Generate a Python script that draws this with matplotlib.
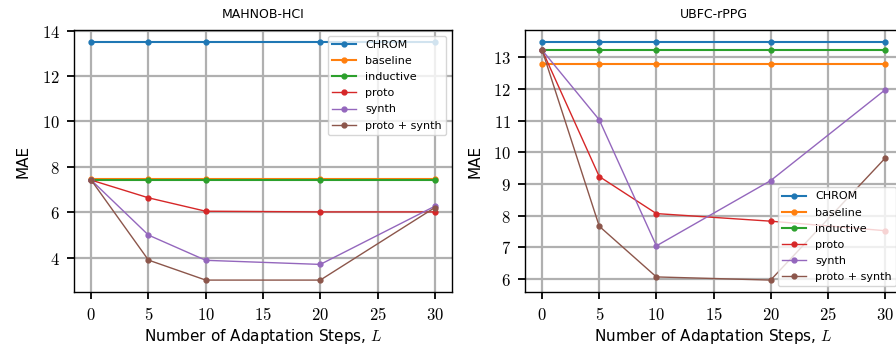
import matplotlib
matplotlib.use("Agg")
import matplotlib.pyplot as plt
from matplotlib.ticker import FuncFormatter

plt.rcParams["font.family"] = ["DejaVu Sans"]
plt.rcParams["mathtext.fontset"] = "cm"

steps = [0, 5, 10, 20, 30]
methods = ["CHROM", "baseline", "inductive", "proto", "synth", "proto + synth"]
colors = ["#1f77b4", "#ff7f0e", "#2ca02c", "#d62728", "#9467bd", "#8c564b"]
widths = [1.5, 1.5, 1.5, 1.0, 1.0, 1.0]

# MAE values
mahnob = {
    "CHROM": [13.5, 13.5, 13.5, 13.5, 13.5],
    "baseline": [7.47, 7.47, 7.47, 7.47, 7.47],
    "inductive": [7.42, 7.42, 7.42, 7.42, 7.42],
    "proto": [7.42, 6.64, 6.05, 6.02, 6.02],
    "synth": [7.42, 5.0, 3.89, 3.71, 6.27],
    "proto + synth": [7.42, 3.9, 3.02, 3.02, 6.21],
}
ubfc = {
    "CHROM": [13.49, 13.49, 13.49, 13.49, 13.49],
    "baseline": [12.78, 12.78, 12.78, 12.78, 12.78],
    "inductive": [13.23, 13.23, 13.23, 13.23, 13.23],
    "proto": [13.23, 9.24, 8.07, 7.83, 7.53],
    "synth": [13.23, 11.03, 7.05, 9.11, 11.97],
    "proto + synth": [13.23, 7.67, 6.07, 5.97, 9.81],
}

fig = plt.figure(figsize=(8.96, 3.49), dpi=100)
ax1 = fig.add_axes([74 / 896, 57 / 349, 378 / 896, 262 / 349])
ax2 = fig.add_axes([525 / 896, 57 / 349, 377 / 896, 262 / 349])

math_fmt = FuncFormatter(lambda v, p: f"${v:g}$")

for ax, data, title, loc in [
    (ax1, mahnob, "MAHNOB-HCI", "upper right"),
    (ax2, ubfc, "UBFC-rPPG", "lower right"),
]:
    for name, c, lw in zip(methods, colors, widths):
        ax.plot(steps, data[name], marker="o", markersize=3.5, color=c,
                linewidth=lw, label=name)
    ax.set_xticks([0, 5, 10, 15, 20, 25, 30])
    ax.xaxis.set_major_formatter(math_fmt)
    ax.yaxis.set_major_formatter(math_fmt)
    ax.grid(True, color="#b0b0b0", linewidth=1.6)
    ax.set_axisbelow(True)
    ax.tick_params(axis="both", direction="out", length=5, width=1.3,
                   labelsize=12, pad=5)
    for s in ax.spines.values():
        s.set_linewidth(1.0)
    ax.set_title(title, fontsize=9, pad=9)
    ax.set_xlabel("Number of Adaptation Steps, $L$", fontsize=11, labelpad=2)
    ax.set_ylabel("MAE", fontsize=11, labelpad=8)
    ax.legend(loc=loc, fontsize=8, framealpha=0.8, handlelength=2.2,
              labelspacing=0.55)

ax2.set_yticks([6, 7, 8, 9, 10, 11, 12, 13])

fig.savefig("out.png", dpi=100)
